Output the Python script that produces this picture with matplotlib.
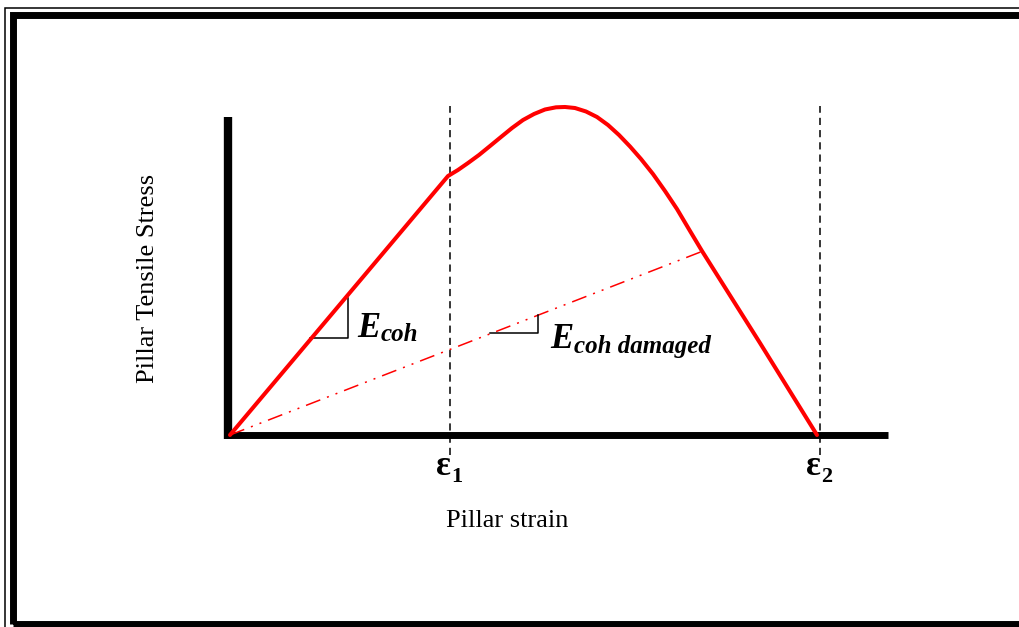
import matplotlib
matplotlib.use("Agg")
import matplotlib.pyplot as plt
from matplotlib.patches import Rectangle

# ---- data (normalised strain / stress, schematic) ----
strain = [0, 0.3695, 0.3864, 0.4034, 0.4220, 0.4407, 0.4593, 0.4780, 0.4966,
          0.5153, 0.5339, 0.5525, 0.5678, 0.5847, 0.6034, 0.6220, 0.6407,
          0.6593, 0.6780, 0.6966, 0.7169, 0.7373, 0.7576, 0.7797, 0.8000,
          0.8983, 0.9949]
stress = [0, 0.7872, 0.8055, 0.8267, 0.8511, 0.8784, 0.9058, 0.9331, 0.9574,
          0.9757, 0.9894, 0.9960, 0.9970, 0.9939, 0.9833, 0.9666, 0.9422,
          0.9119, 0.8769, 0.8389, 0.7933, 0.7416, 0.6869, 0.6201, 0.5593,
          0.2796, 0.0]
damaged_strain = [0, 0.800]
damaged_stress = [0, 0.558]
eps_positions = [0.373, 1.0]
eps_labels = ["1", "2"]
xlabel = "Pillar strain"
ylabel = "Pillar Tensile Stress"

W, H = 1020, 627
fig = plt.figure(figsize=(W / 100, H / 100), dpi=100)
fig.patch.set_facecolor("white")

# border (double frame)
fig.add_artist(Rectangle((5.5 / W, -10 / H), 1.2, (H - 7.5 + 10) / H,
                         transform=fig.transFigure, fill=False, lw=1.1,
                         edgecolor="black", clip_on=False))
fig.add_artist(Rectangle((13.5 / W, 3.5 / H), 1.2, (H - 15 - 3.5) / H,
                         transform=fig.transFigure, fill=False, lw=5.0,
                         edgecolor="black", clip_on=False))

# axes mapped: strain 0->px 230, 1->px 820; stress 0->py 435, 1->py 106
ax = fig.add_axes([230 / W, (H - 435) / H, 590 / W, 329 / H])
ax.set_xlim(0, 1)
ax.set_ylim(0, 1)
ax.axis("off")

serif = "Liberation Serif"

# dashed vertical lines
for e in eps_positions:
    ax.plot([e, e], [-0.061, 1.0], color="black", lw=1.1,
            linestyle=(0, (4.7, 3.3)), clip_on=False)

# axis lines
ax.plot([-0.004, -0.004], [-0.012, 0.967], color="black", lw=6.0,
        solid_capstyle="butt", clip_on=False, zorder=4)
ax.plot([-0.010, 1.115], [0, 0], color="black", lw=5.0,
        solid_capstyle="butt", clip_on=False, zorder=4)

# damaged modulus line
ax.plot(damaged_strain, damaged_stress, color="red", lw=1.1,
        linestyle=(0, (10, 4.7, 1.3, 4.7, 1.3, 4.7)), clip_on=False, zorder=5)

# main curve
ax.plot(strain, stress, color="red", lw=2.9, clip_on=False, zorder=6,
        solid_joinstyle="round", solid_capstyle="round")

# slope triangles
ax.plot([0.1356, 0.200, 0.200], [0.295, 0.295, 0.416], color="black",
        lw=1.1, clip_on=False, zorder=5)
ax.plot([0.4407, 0.522, 0.522], [0.310, 0.310, 0.365], color="black",
        lw=1.1, clip_on=False, zorder=5)

# slope labels
ax.text(0.2153, 0.298, "E", fontsize=25, fontweight="bold", fontstyle="italic",
        family=serif, ha="left", va="baseline")
ax.text(0.256, 0.286, "coh", fontsize=18, fontweight="bold", fontstyle="italic",
        family=serif, ha="left", va="baseline")
ax.text(0.5424, 0.2644, "E", fontsize=25, fontweight="bold", fontstyle="italic",
        family=serif, ha="left", va="baseline")
ax.text(0.583, 0.249, "coh damaged", fontsize=18, fontweight="bold",
        fontstyle="italic", family=serif, ha="left", va="baseline")

# epsilon labels
for e, lab in zip(eps_positions, eps_labels):
    ax.text(e + 0.002, -0.122, "ε", fontsize=25, fontweight="bold",
            family=serif, ha="right", va="baseline", clip_on=False)
    ax.text(e + 0.002, -0.143, lab, fontsize=16, fontweight="bold",
            family=serif, ha="left", va="baseline", clip_on=False)

# axis titles
fig.text(507 / W, (H - 521) / H, xlabel, fontsize=19, family=serif,
         ha="center", va="center")
fig.text(148 / W, (H - 278) / H, ylabel, fontsize=19, family=serif,
         ha="center", va="center", rotation=90)

fig.savefig("out.png", dpi=100)
